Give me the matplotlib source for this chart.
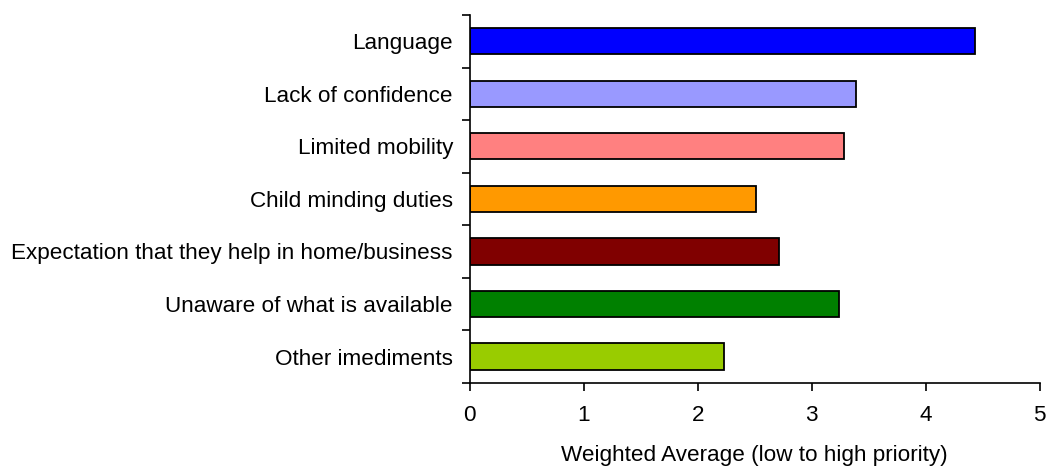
import matplotlib

matplotlib.use("Agg")
import matplotlib.pyplot as plt  # noqa: E402
import numpy as np  # noqa: E402

plt.rcParams["font.family"] = ["Liberation Sans", "DejaVu Sans"]

categories = [
    "Language",
    "Lack of confidence",
    "Limited mobility",
    "Child minding duties",
    "Expectation that they help in home/business",
    "Unaware of what is available",
    "Other imediments",
]
values = [4.43, 3.39, 3.28, 2.51, 2.71, 3.24, 2.23]
colors = ["#0000ff", "#9999ff", "#ff8080", "#ff9900", "#800000", "#008000", "#99cc00"]
x_ticks = [0, 1, 2, 3, 4, 5]
x_label = "Weighted Average (low to high priority)"

FS = 16.2

fig = plt.figure(figsize=(10.46, 4.68), dpi=100)
ax = fig.add_axes([0.449, 0.182, 0.545, 0.786])

n = len(categories)
ypos = np.arange(n)[::-1]
ax.barh(ypos, values, height=0.5, color=colors, edgecolor="black", linewidth=1.3)

ax.set_xlim(0, 5)
ax.set_ylim(-0.5, n - 0.5)
ax.set_xticks(x_ticks)
ax.set_xticklabels([str(t) for t in x_ticks], fontsize=FS)
ax.set_xlabel(x_label, fontsize=FS, labelpad=14)

# category labels on minor ticks, boundary ticks as major ticks
ax.set_yticks(np.arange(n + 1) - 0.5)
ax.set_yticklabels([])
ax.set_yticks(ypos, minor=True)
ax.set_yticklabels(categories, minor=True, fontsize=FS)
ax.tick_params(axis="y", which="minor", length=0, pad=12)
ax.tick_params(axis="y", which="major", length=6, width=1.2, direction="out")
ax.tick_params(axis="x", length=6, width=1.2, direction="out", pad=10)

for s in ("left", "bottom"):
    ax.spines[s].set_linewidth(1.2)
ax.spines["top"].set_visible(False)
ax.spines["right"].set_visible(False)

fig.savefig("out.png", dpi=100)
